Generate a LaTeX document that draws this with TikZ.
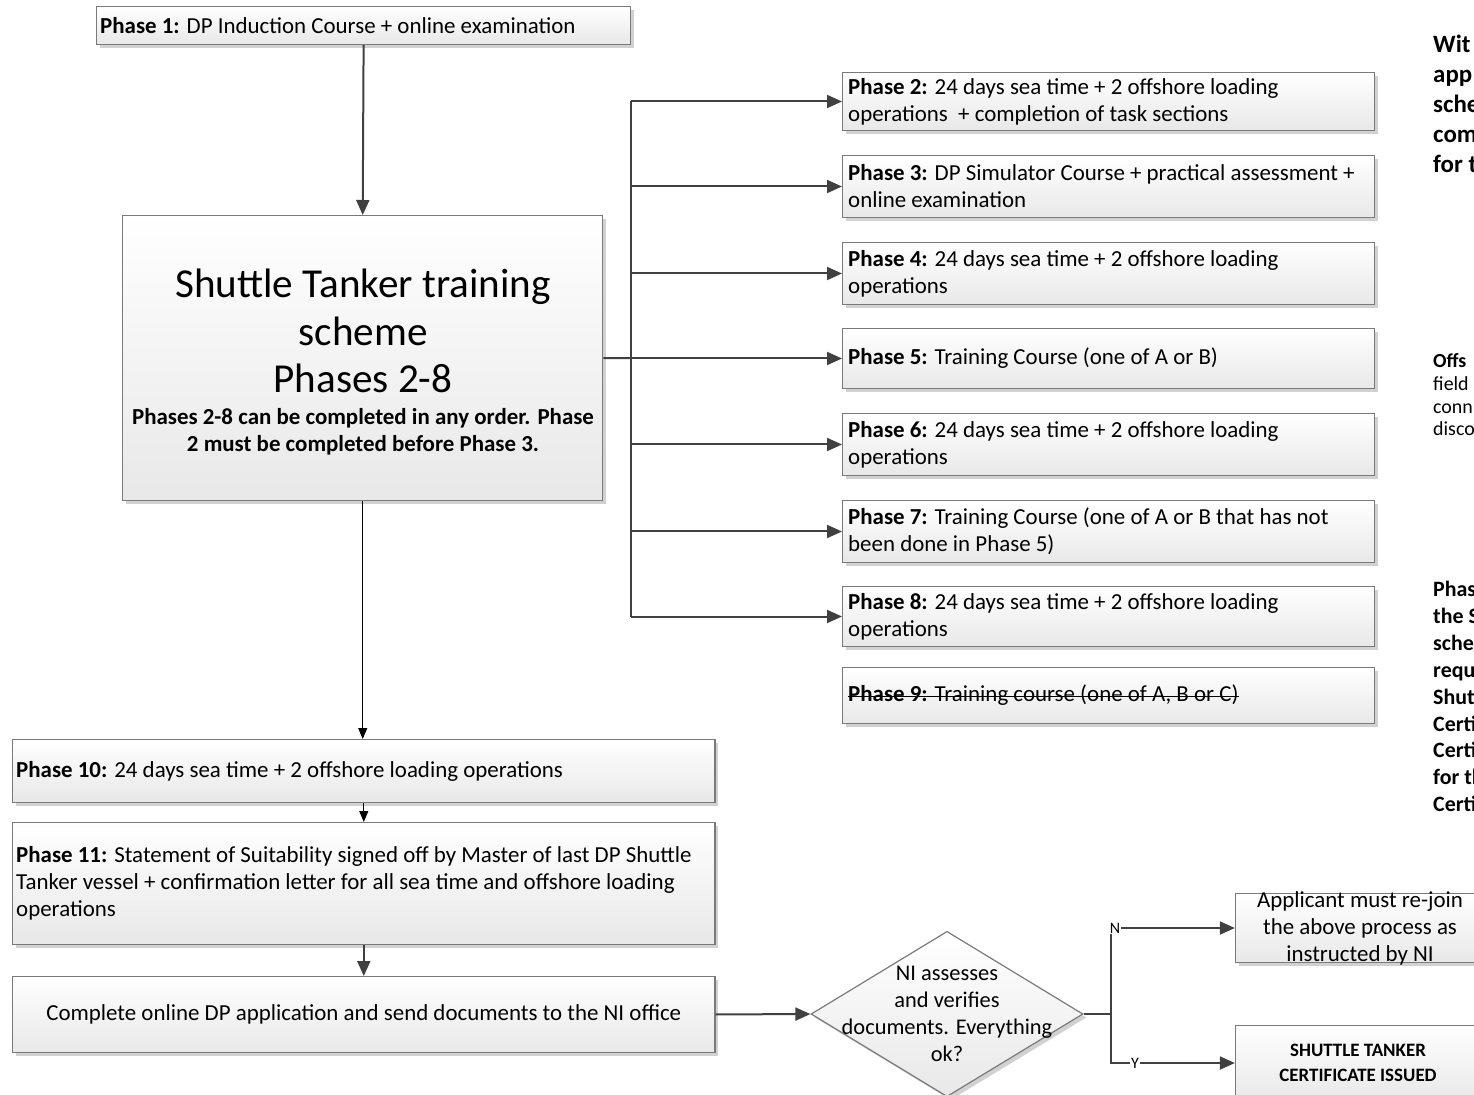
\documentclass[tikz,border=0pt]{standalone}
\usepackage{fontspec}
\setmainfont{Carlito}
\usetikzlibrary{arrows.meta,shadows,shapes.geometric}
\definecolor{edgegray}{HTML}{404040}
\definecolor{framegray}{HTML}{7A7A7A}

\tikzset{
  pbox/.style={draw=framegray, line width=1.2bp, top color=white, bottom color=black!9,
    drop shadow={shadow xshift=3.5bp, shadow yshift=-3.5bp, fill=black!18, opacity=1},
    inner sep=0},
  lbl/.style={inner sep=0, font=\fontsize{23}{27}\selectfont, align=left},
  flow/.style={draw=edgegray, line width=2bp},
  flowarr/.style={flow, -{Triangle[length=15bp,width=13bp]}},
  thinarr/.style={draw=black, line width=1bp, -{Triangle[length=11bp,width=9bp]}},
  yn/.style={inner sep=1bp, fill=white, font=\fontsize{16}{18}\selectfont},
}

\begin{document}
\begin{tikzpicture}[x=1bp, y=-1bp]
\useasboundingbox (0,0) rectangle (1474,1094);

% Phase 1
\node[pbox, minimum width=536, minimum height=38, anchor=north west] (p1) at (96,6) {};
\node[lbl, anchor=west] at ([xshift=4bp]p1.west) {\textbf{Phase 1:} DP Induction Course + online examination};

% Phases 2-8 scheme box
\node[pbox, minimum width=482, minimum height=286, anchor=north west] (scheme) at (122,215) {};
\node[inner sep=0, align=center, font=\fontsize{41.3}{48}\selectfont] at (363,331)
  {Shuttle Tanker training\\scheme\\Phases 2-8};
\node[inner sep=0, align=center, font=\fontsize{23}{27}\selectfont\bfseries] at (363,432)
  {Phases 2-8 can be completed in any order. Phase\\2 must be completed before Phase 3.};

% Phases 2-9
\node[pbox, minimum width=534, minimum height=58, anchor=north west] (p2) at (842,72) {};
\node[lbl, anchor=west] at ([xshift=6bp]p2.west) {\textbf{Phase 2:} 24 days sea time + 2 offshore loading\\operations~~+ completion of task sections};
\node[pbox, minimum width=534, minimum height=62, anchor=north west] (p3) at (842,155) {};
\node[lbl, anchor=west] at ([xshift=6bp]p3.west) {\textbf{Phase 3:} DP Simulator Course + practical assessment +\\online examination};
\node[pbox, minimum width=534, minimum height=62, anchor=north west] (p4) at (842,242) {};
\node[lbl, anchor=west] at ([xshift=6bp]p4.west) {\textbf{Phase 4:} 24 days sea time + 2 offshore loading\\operations};
\node[pbox, minimum width=534, minimum height=60, anchor=north west] (p5) at (842,328) {};
\node[lbl, anchor=west] at ([xshift=6bp]p5.west) {\textbf{Phase 5:} Training Course (one of A or B)};
\node[pbox, minimum width=534, minimum height=62, anchor=north west] (p6) at (842,413) {};
\node[lbl, anchor=west] at ([xshift=6bp]p6.west) {\textbf{Phase 6:} 24 days sea time + 2 offshore loading\\operations};
\node[pbox, minimum width=534, minimum height=62, anchor=north west] (p7) at (842,500) {};
\node[lbl, anchor=west] at ([xshift=6bp]p7.west) {\textbf{Phase 7:} Training Course (one of A or B that has not\\been done in Phase 5)};
\node[pbox, minimum width=534, minimum height=60, anchor=north west] (p8) at (842,586) {};
\node[lbl, anchor=west] at ([xshift=6bp]p8.west) {\textbf{Phase 8:} 24 days sea time + 2 offshore loading\\operations};
\node[pbox, minimum width=534, minimum height=56, anchor=north west] (p9) at (842,667) {};
\node[lbl, anchor=west] (t9) at ([xshift=6bp]p9.west) {\textbf{Phase 9:} Training course (one of A, B or C)};
% struck-out phase
\draw[line width=1.1bp] ([yshift=5.5bp]t9.base west) -- ([yshift=5.5bp]t9.base east);

% Phases 10, 11 and application
\node[pbox, minimum width=705, minimum height=63, anchor=north west] (p10) at (12,739) {};
\node[lbl, anchor=west] at ([xshift=4bp]p10.west) {\textbf{Phase 10:} 24 days sea time + 2 offshore loading operations};
\node[pbox, minimum width=705, minimum height=122, anchor=north west] (p11) at (12,822) {};
\node[lbl, anchor=west] at ([xshift=4bp]p11.west) {\textbf{Phase 11:} Statement of Suitability signed off by Master of last DP Shuttle\\Tanker vessel + confirmation letter for all sea time and offshore loading\\operations};
\node[pbox, minimum width=705, minimum height=76, anchor=north west] (apply) at (12,976) {};
\node[lbl, align=center] at (apply.center) {Complete online DP application and send documents to the NI office};

% Decision
\node[pbox, diamond, minimum width=273, minimum height=166] (dec) at (947,1014) {};
\node[inner sep=0, align=center, font=\fontsize{22.5}{27}\selectfont] at (947,1014) {NI assesses\\and verifies\\documents. Everything\\ok?};

% Outcomes
\node[pbox, minimum width=250, minimum height=70] (rejoin) at (1360,928) {};
\node[lbl, align=center] at (rejoin.center) {Applicant must re-join\\the above process as\\instructed by NI};
\node[pbox, minimum width=246, minimum height=76] (cert) at (1358,1063) {};
\node[inner sep=0, align=center, font=\fontsize{19}{25}\selectfont\bfseries] at (cert.center) {SHUTTLE TANKER\\CERTIFICATE ISSUED};

% Side notes running off the right edge
\node[anchor=north west, inner sep=0, align=left, font=\fontsize{25}{30}\selectfont\bfseries] (noteA) at (1433,35) {Wit\\app\\sche\\com\\for t};
\node[anchor=north west, inner sep=0, align=left, font=\fontsize{20}{23}\selectfont] (noteB) at (1433,353) {\textbf{Offs}\\field\\conn\\disco};
\node[anchor=north west, inner sep=0, align=left, font=\fontsize{22}{27}\selectfont\bfseries] (noteC) at (1433,581) {Phas\\the S\\sche\\requ\\Shut\\Certi\\Certi\\for th\\Certi};

% Connectors
\draw[flowarr] (p1.south) -- (scheme.north);
\coordinate (trunk) at (631,358);
\draw[flow] (scheme.east) -- (trunk);
\draw[flow] (trunk |- p2.west) -- (trunk |- p8.west);
\foreach \p in {p2,p3,p4,p5,p6,p7,p8}
  \draw[flowarr] (trunk |- \p.west) -- (\p.west);
\draw[thinarr] (scheme.south) -- (scheme.south |- p10.north);
\draw[thinarr] (p10.south) -- (p11.north);
\draw[flowarr] (p11.south) -- (apply.north);
\draw[flowarr] (apply.east) -- (dec.west);

\coordinate (split) at (1111,1014);
\node[yn] (nlab) at (1115,928) {N};
\node[yn] (ylab) at (1135,1063) {Y};
\draw[flow] (dec.east) -- (split);
\draw[flow] (split) -- (split |- nlab.south);
\draw[flowarr] (nlab.east) -- (rejoin.west);
\draw[flow] (split) |- (ylab.west);
\draw[flowarr] (ylab.east) -- (cert.west);
\end{tikzpicture}
\end{document}
